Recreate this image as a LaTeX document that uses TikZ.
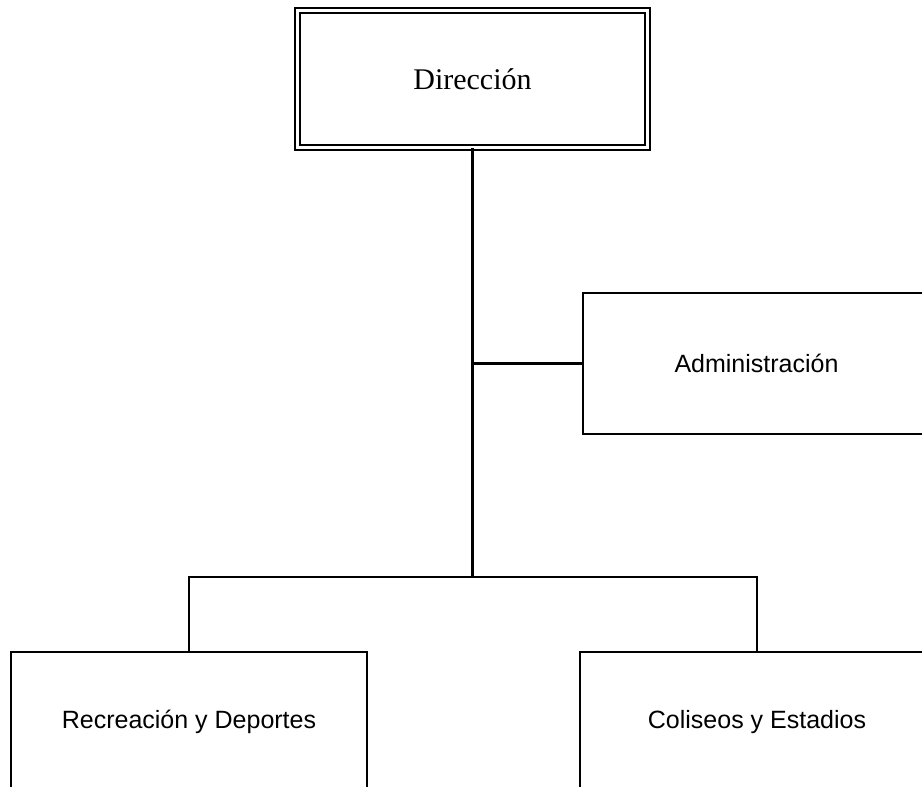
\documentclass[tikz,border=0pt]{standalone}
\usepackage{fontspec}
\setmainfont{Liberation Serif}
\setsansfont{Liberation Sans}
\begin{document}
\begin{tikzpicture}[x=1pt,y=1pt,
  unit/.style={draw, rectangle, line width=2pt, inner sep=0pt,
    font=\sffamily\fontsize{25}{30}\selectfont},
  head/.style={draw, rectangle, double, line width=1.8pt, double distance=3.2pt,
    inner sep=0pt, font=\fontsize{30}{36}\selectfont},
  link/.style={line width=2.2pt, line join=miter}]
\clip (0,0) rectangle (922,787);
% top of the chart
\node[head, minimum width=350pt, minimum height=137pt] (dir) at (472.5,708) {Dirección};
% staff unit on the side
\node[unit, minimum width=347pt, minimum height=141pt] (adm) at (756.5,423.5) {Administración};
% line units
\node[unit, minimum width=356pt, minimum height=140pt] (rec) at (189,65) {Recreación y Deportes};
\node[unit, minimum width=354pt, minimum height=140pt] (col) at (757,65) {Coliseos y Estadios};
% connectors
\coordinate (bus) at (472.5,210);
\draw[link] (dir.south) -- (bus);
\draw[link] (adm.west) -- (adm.west -| dir.south);
\draw[link] (rec.north) |- (bus) -| (col.north);
\end{tikzpicture}
\end{document}
